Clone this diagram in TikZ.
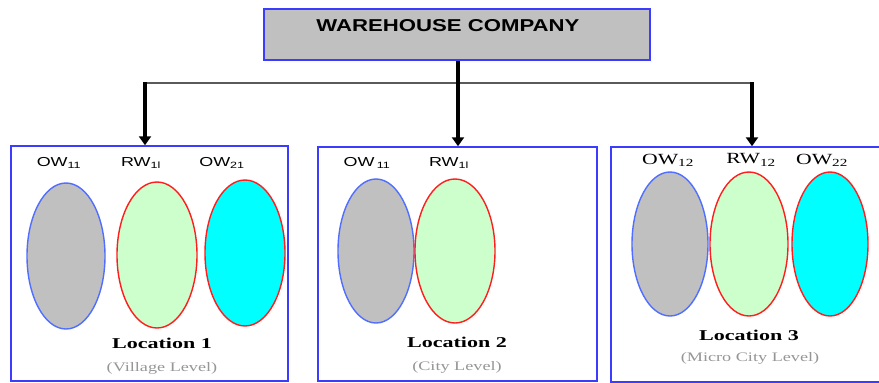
\documentclass[tikz,border=0pt]{standalone}
\usepackage{fontspec}
\setmainfont{Liberation Serif}
\newfontfamily\sfw{Liberation Sans}[FakeStretch=1.38]
\newfontfamily\rmw{Liberation Serif}[FakeStretch=1.4]
\newfontfamily\rmloc{Liberation Serif}[FakeStretch=1.47]
\usetikzlibrary{shapes.geometric,arrows.meta}
\definecolor{boxblue}{RGB}{60,60,255}
\definecolor{ellblue}{RGB}{80,110,255}
\definecolor{ellred}{RGB}{255,30,30}
\definecolor{grayfill}{RGB}{192,192,192}
\definecolor{greenfill}{RGB}{204,255,204}
\definecolor{cyanfill}{RGB}{0,255,255}
\definecolor{linegray}{RGB}{90,90,90}
\definecolor{levelgray}{RGB}{150,150,150}
\tikzset{
  locbox/.style={draw=boxblue, line width=1.5pt, inner sep=0pt},
  topbox/.style={draw=boxblue, line width=1.5pt, fill=grayfill, inner sep=0pt},
  ow/.style={ellipse, draw=ellblue, line width=1.4pt, fill=grayfill, inner sep=0pt},
  rw/.style={ellipse, draw=ellred, line width=1.4pt, fill=greenfill, inner sep=0pt},
  owc/.style={ellipse, draw=ellred, line width=1.4pt, fill=cyanfill, inner sep=0pt},
  sflab/.style={font=\sfw\fontsize{13}{15}\selectfont, inner sep=0pt},
  rmlab/.style={font=\rmw\fontsize{15.5}{17}\selectfont, inner sep=0pt},
  loclab/.style={font=\rmloc\bfseries\fontsize{15}{17}\selectfont, inner sep=0pt},
  levlab/.style={font=\rmw\fontsize{13}{15}\selectfont, text=levelgray, inner sep=0pt},
  arr/.style={line width=3.5pt, -{Triangle[width=12pt,length=9pt]}},
  hline/.style={line width=1.2pt, draw=linegray}
}
\begin{document}
\begin{tikzpicture}[x=1pt,y=-1pt]
\clip (0,0) rectangle (879,383);
\fill[white] (0,0) rectangle (879,383);
% top box
\node[topbox, minimum width=386pt, minimum height=51pt] (top) at (457,34.5) {};
\node[inner sep=0pt] (title) at (448,26) {\resizebox{263pt}{12pt}{\sfw\bfseries WAREHOUSE COMPANY}};
% location boxes
\node[locbox, minimum width=277pt, minimum height=235pt] (b1) at (149.5,263.5) {};
\node[locbox, minimum width=279pt, minimum height=234pt] (b2) at (457.5,264) {};
\node[locbox, minimum width=279pt, minimum height=235pt] (b3) at (750.5,264.5) {};
% connectors
\coordinate (j1) at (145,83);
\coordinate (j2) at (458,83);
\coordinate (j3) at (752,83);
\draw[hline] (j1) -- (j3);
\draw[arr] (top.south -| j2) -- (b2.north -| j2);
\draw[arr] ([yshift=0.6pt]j1) -- (b1.north -| j1);
\draw[arr] ([yshift=0.6pt]j3) -- (b3.north -| j3);
% box 1
\node[ow, minimum width=78pt, minimum height=146pt] (e11) at (66,256) {};
\node[rw, minimum width=80pt, minimum height=146pt] (e12) at (157,255) {};
\node[owc, minimum width=80pt, minimum height=146pt] (e13) at (245,253) {};
\node[sflab] (l11) at (59,163) {OW\textsubscript{11}};
\node[sflab] (l12) at (141,163) {RW\textsubscript{1l}};
\node[sflab] (l13) at (222,163) {OW\textsubscript{21}};
\node[loclab] (loc1) at (162,343) {Location 1};
\node[levlab] (lev1) at (162,368) {(Village Level)};
% box 2
\node[ow, minimum width=76pt, minimum height=144pt] (e21) at (376,251) {};
\node[rw, minimum width=80pt, minimum height=144pt] (e22) at (455,251) {};
\node[sflab] (l21) at (367,163) {OW\,\textsubscript{11}};
\node[sflab] (l22) at (449,163) {RW\textsubscript{1l}};
\node[loclab] (loc2) at (457,342) {Location 2};
\node[levlab] (lev2) at (457,367) {(City Level)};
% box 3
\node[ow, minimum width=76pt, minimum height=144pt] (e31) at (670,244) {};
\node[rw, minimum width=78pt, minimum height=144pt] (e32) at (749,244) {};
\node[owc, minimum width=76pt, minimum height=144pt] (e33) at (830,244) {};
\node[rmlab] (l31) at (668,160) {OW\textsubscript{12}};
\node[rmlab] (l32) at (751,160) {RW\textsubscript{12}};
\node[rmlab] (l33) at (822,160) {OW\textsubscript{22}};
\node[loclab] (loc3) at (749,335) {Location 3};
\node[levlab] (lev3) at (750,358) {(Micro City Level)};
\end{tikzpicture}
\end{document}
